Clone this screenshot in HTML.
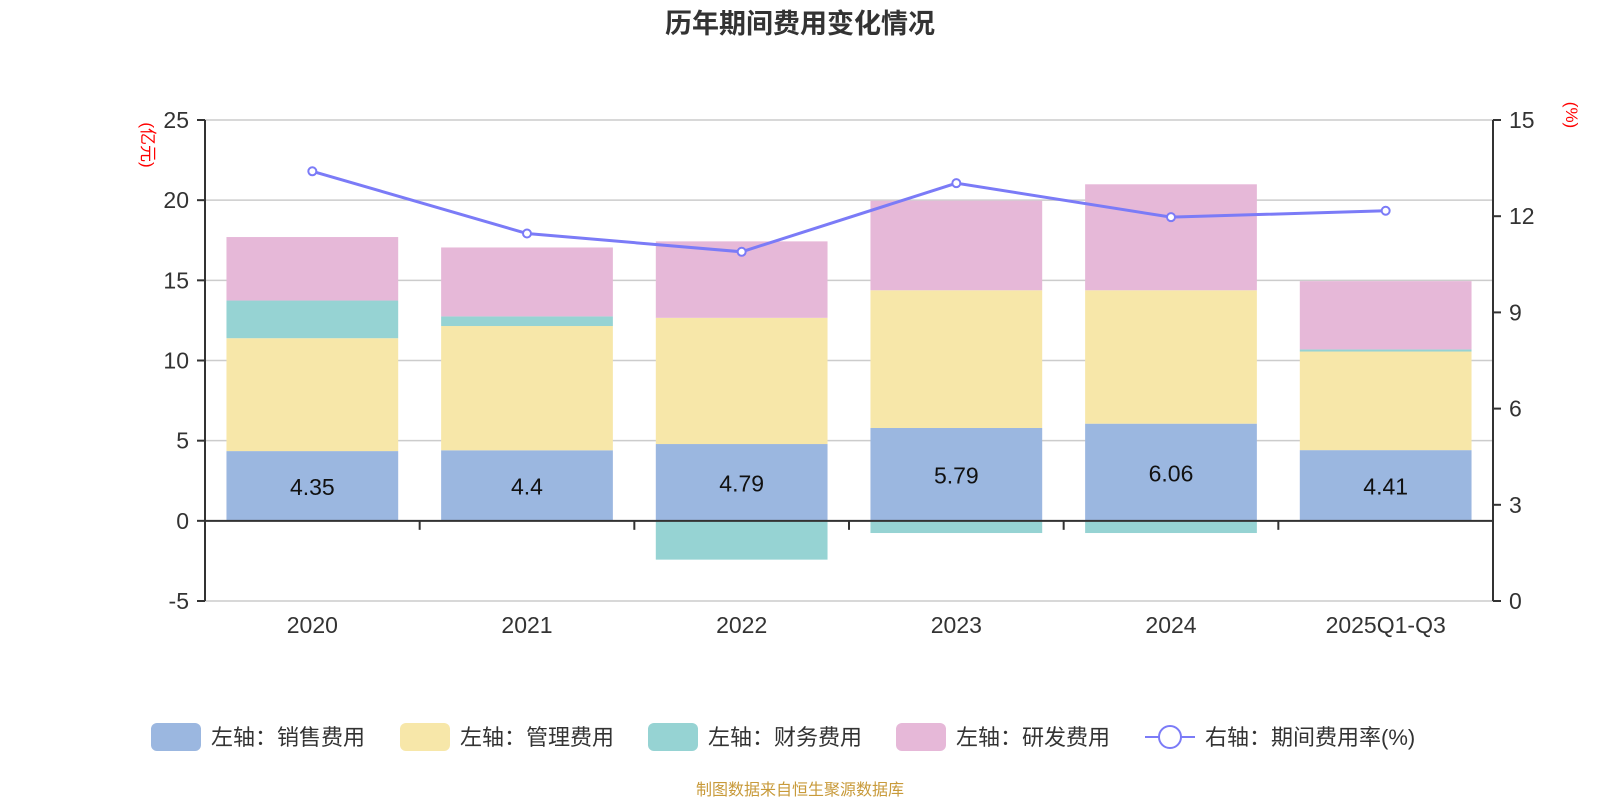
<!DOCTYPE html>
<html><head><meta charset="utf-8">
<style>
html,body{margin:0;padding:0;background:#fff;}
svg{display:block;font-family:"Liberation Sans","Noto Sans CJK SC",sans-serif;}
</style></head>
<body>
<svg id="chart" width="1600" height="800" viewBox="0 0 1600 800">
<text x="800" y="33" text-anchor="middle" font-size="27" font-weight="bold" fill="#333">历年期间费用变化情况</text>
<g id="grid"></g>
<g id="bars"></g>
<g id="axes"></g>
<g id="line"></g>
<g id="legend"></g>
<text x="800" y="795" text-anchor="middle" font-size="16" fill="#c89a3a">制图数据来自恒生聚源数据库</text>
</svg>
<script>
const categories = ["2020","2021","2022","2023","2024","2025Q1-Q3"];
const sales = [4.35,4.4,4.79,5.79,6.06,4.41];
const mgmt = [7.04,7.75,7.87,8.59,8.32,6.15];
const fin = [2.35,0.6,-2.42,-0.76,-0.76,0.13];
const rd = [3.96,4.3,4.77,5.59,6.61,4.26];
const rate = [13.4,11.46,10.89,13.03,11.97,12.17];
const leftTicks = [-5,0,5,10,15,20,25];
const rightTicks = [0,3,6,9,12,15];

const NS="http://www.w3.org/2000/svg";
const L=205,R=1493,T=120,B=601;
const yL=v=>B-(v+5)/30*(B-T);
const yR=v=>B-v/15*(B-T);
const bw=(R-L)/categories.length;
const xc=i=>L+bw*(i+0.5);
function mk(tag,attrs,parent,txt){const e=document.createElementNS(NS,tag);for(const k in attrs)e.setAttribute(k,attrs[k]);if(txt!==undefined)e.textContent=txt;parent.appendChild(e);return e;}
const grid=document.getElementById('grid'),bars=document.getElementById('bars'),axes=document.getElementById('axes'),line=document.getElementById('line'),legend=document.getElementById('legend');

leftTicks.forEach(v=>{
  const g=mk('line',{x1:L,x2:R,y1:yL(v),y2:yL(v),stroke:'#ccc','stroke-width':1.5},grid);
  
  
  mk('line',{x1:L-8,x2:L,y1:yL(v),y2:yL(v),stroke:'#333','stroke-width':2},axes);
  const t=mk('text',{x:L-16,y:yL(v)+8,'text-anchor':'end','font-size':23,fill:'#333'},axes,String(v));
  
  
});
rightTicks.forEach(v=>{
  mk('line',{x1:R,x2:R+8,y1:yR(v),y2:yR(v),stroke:'#333','stroke-width':2},axes);
  const t=mk('text',{x:R+16,y:yR(v)+8,'font-size':23,fill:'#333'},axes,String(v));
  
  
});
mk('line',{x1:L,x2:L,y1:T,y2:B,stroke:'#333','stroke-width':2},axes);
mk('line',{x1:R,x2:R,y1:T,y2:B,stroke:'#333','stroke-width':2},axes);
mk('line',{x1:L,x2:R,y1:yL(0),y2:yL(0),stroke:'#333','stroke-width':2},axes);
for(let i=1;i<categories.length;i++){mk('line',{x1:L+bw*i,x2:L+bw*i,y1:yL(0),y2:yL(0)+9,stroke:'#333','stroke-width':2},axes);}
categories.forEach((c,i)=>{
  const t=mk('text',{x:xc(i),y:633,'text-anchor':'middle','font-size':23,fill:'#333'},axes,c);
  
  
});
const u1=mk('text',{transform:'translate(142,145) rotate(90)','text-anchor':'middle','font-size':17,fill:'#f00'},axes,'(亿元)');


const u2=mk('text',{transform:'translate(1566,115) rotate(90)','text-anchor':'middle','font-size':17,fill:'#f00'},axes,'(%)');



const series=[{d:sales,c:'#9bb7e0',n:'左轴：销售费用'},{d:mgmt,c:'#f7e7a9',n:'左轴：管理费用'},{d:fin,c:'#96d3d3',n:'左轴：财务费用'},{d:rd,c:'#e6b8d8',n:'左轴：研发费用'}];
const barW=bw*0.8;
categories.forEach((c,i)=>{
  let pos=0,neg=0;
  series.forEach((s,si)=>{
    const v=s.d[i];let y0,y1;
    if(v>=0){y0=pos;y1=pos+v;pos=y1;}else{y0=neg;y1=neg+v;neg=y1;}
    const top=Math.min(yL(y0),yL(y1)),h=Math.abs(yL(y0)-yL(y1));
    const r=mk('rect',{x:xc(i)-barW/2,y:top,width:barW,height:h,fill:s.c},bars);
    
    
  });
  const t=mk('text',{x:xc(i),y:(yL(0)+yL(sales[i]))/2+9,'text-anchor':'middle','font-size':23,fill:'#111'},bars,String(sales[i]));
  
  
});
const pts=rate.map((v,i)=>xc(i)+','+yR(v)).join(' ');
const pl=mk('polyline',{points:pts,fill:'none',stroke:'#7b7bf7','stroke-width':3},line);


rate.forEach((v,i)=>{
  const p=mk('circle',{cx:xc(i),cy:yR(v),r:4,fill:'#fff',stroke:'#7b7bf7','stroke-width':2},line);
  
  
});
const lx=[151,400,648,896,1145];
series.forEach((s,i)=>{
  const g=mk('g',{},legend);
  
  
  mk('rect',{x:lx[i],y:723,width:50,height:28,rx:6,fill:s.c},g);
  mk('text',{x:lx[i]+60,y:745,'font-size':22,fill:'#333'},g,s.n);
});
const g=mk('g',{},legend);


mk('line',{x1:lx[4],x2:lx[4]+50,y1:737,y2:737,stroke:'#7b7bf7','stroke-width':2},g);
mk('circle',{cx:lx[4]+25,cy:737,r:11,fill:'#fff',stroke:'#7b7bf7','stroke-width':2},g);
mk('text',{x:lx[4]+60,y:745,'font-size':22,fill:'#333'},g,'右轴：期间费用率(%)');
</script>
</body></html>
